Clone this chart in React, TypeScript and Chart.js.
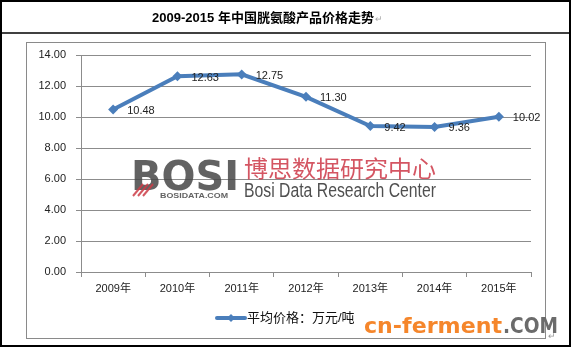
import React, { useEffect, useRef } from "react";
import { Chart, registerables } from "chart.js";

Chart.register(...registerables);

const TITLE = "2009-2015 年中国胱氨酸产品价格走势";
const years = ["2009年", "2010年", "2011年", "2012年", "2013年", "2014年", "2015年"];
const prices = [10.48, 12.63, 12.75, 11.3, 9.42, 9.36, 10.02];
const seriesName = "平均价格：万元/吨";
const yMin = 0;
const yMax = 14;
const yStep = 2;
const wmCn = "博思数据研究中心";
const wmEn = "Bosi Data Research Center";
const wmBrand = "BOSI";
const wmSmall = "BOSIDATA.COM";
const siteA = "cn-ferment";
const siteB = ".COM";

const LINE = "#4a7ebb";
const GRID = "#8c8c8c";
const CJK = '"Liberation Sans", "Noto Sans CJK SC", sans-serif';

function stretchText(ctx: CanvasRenderingContext2D, text: string, x: number, y: number, w: number) {
  const m = ctx.measureText(text).width;
  ctx.save();
  ctx.translate(x, y);
  ctx.scale(w / m, 1);
  ctx.fillText(text, 0, 0);
  ctx.restore();
}

const framePlugin = {
  id: "frame",
  beforeDraw(chart: any) {
    const ctx = chart.ctx as CanvasRenderingContext2D;
    ctx.save();
    ctx.fillStyle = "#ffffff";
    ctx.fillRect(0, 0, chart.width, chart.height);
    // outer black frame
    ctx.strokeStyle = "#000";
    ctx.lineWidth = 2;
    ctx.strokeRect(1, 1, 569, 345);
    ctx.lineWidth = 1.5;
    ctx.beginPath();
    ctx.moveTo(1, 33);
    ctx.lineTo(570, 33);
    ctx.stroke();
    // inner chart frame
    ctx.strokeStyle = "#8a8a8a";
    ctx.lineWidth = 1;
    ctx.strokeRect(26.5, 42.5, 519, 296);
    // title
    ctx.fillStyle = "#000";
    ctx.font = 'bold 13px ' + CJK;
    ctx.textAlign = "left";
    ctx.textBaseline = "middle";
    const tw = ctx.measureText(TITLE).width;
    const tx = 263 - tw / 2;
    ctx.fillText(TITLE, tx, 18);
    ctx.fillStyle = "#aaa";
    ctx.font = "9px " + CJK;
    ctx.fillText("↵", tx + tw + 1, 20);
    ctx.restore();
  },
};

const watermarkPlugin = {
  id: "bosi",
  beforeDatasetsDraw(chart: any) {
    const ctx = chart.ctx as CanvasRenderingContext2D;
    ctx.save();
    ctx.textBaseline = "alphabetic";
    ctx.textAlign = "left";
    // big BOSI letters
    ctx.fillStyle = "rgba(70,70,70,0.85)";
    ctx.font = 'bold 40px "DejaVu Sans", sans-serif';
    stretchText(ctx, wmBrand, 131, 190, 108);
    // red stripes
    ctx.strokeStyle = "rgba(205,60,70,0.85)";
    ctx.lineWidth = 2;
    for (let i = 0; i < 3; i++) {
      ctx.beginPath();
      ctx.moveTo(133 + i * 5, 196);
      ctx.lineTo(143 + i * 5, 184);
      ctx.stroke();
    }
    // small domain
    ctx.fillStyle = "rgba(70,70,70,0.85)";
    ctx.font = "bold 8px " + CJK;
    stretchText(ctx, wmSmall, 160, 198, 68);
    // chinese
    ctx.fillStyle = "rgba(205,55,70,0.85)";
    ctx.font = '23px "Noto Sans CJK SC", sans-serif';
    stretchText(ctx, wmCn, 244, 177, 192);
    // english
    ctx.fillStyle = "rgba(60,60,60,0.9)";
    ctx.font = '20px "Liberation Sans", sans-serif';
    stretchText(ctx, wmEn, 244, 197, 192);
    ctx.restore();
  },
};

const labelsPlugin = {
  id: "vlabels",
  afterDatasetsDraw(chart: any) {
    const ctx = chart.ctx as CanvasRenderingContext2D;
    const meta = chart.getDatasetMeta(0);
    const data = chart.data.datasets[0].data as number[];
    ctx.save();
    ctx.fillStyle = "#222";
    ctx.font = '11px "Liberation Sans", sans-serif';
    ctx.textAlign = "left";
    ctx.textBaseline = "middle";
    meta.data.forEach((pt: any, i: number) => {
      ctx.fillText(data[i].toFixed(2), pt.x + 14, pt.y + 1.5);
    });
    ctx.restore();
  },
};

const legendPlugin = {
  id: "customLegend",
  afterDraw(chart: any) {
    const ctx = chart.ctx as CanvasRenderingContext2D;
    ctx.save();
    const y = 318;
    ctx.strokeStyle = LINE;
    ctx.lineWidth = 4;
    ctx.lineCap = "round";
    ctx.beginPath();
    ctx.moveTo(217, y);
    ctx.lineTo(245, y);
    ctx.stroke();
    ctx.fillStyle = LINE;
    ctx.beginPath();
    ctx.moveTo(231, y - 4);
    ctx.lineTo(235, y);
    ctx.lineTo(231, y + 4);
    ctx.lineTo(227, y);
    ctx.closePath();
    ctx.fill();
    ctx.fillStyle = "#111";
    ctx.font = "13px " + CJK;
    ctx.textAlign = "left";
    ctx.textBaseline = "middle";
    ctx.fillText(chart.data.datasets[0].label, 247, y);

    // site watermark
    ctx.textBaseline = "alphabetic";
    ctx.font = 'bold 22px "DejaVu Sans", sans-serif';
    ctx.fillStyle = "#f5862b";
    stretchText(ctx, siteA, 364, 333, 138);
    ctx.fillStyle = "#6b6b6b";
    stretchText(ctx, siteB, 503, 333, 55);
    ctx.fillStyle = "#999";
    ctx.font = "9px " + CJK;
    ctx.fillText("↵", 548, 339);
    ctx.restore();
  },
};

export default function App() {
  const ref = useRef<HTMLCanvasElement | null>(null);
  useEffect(() => {
    if (!ref.current) return;
    const chart = new Chart(ref.current, {
      type: "line",
      data: {
        labels: years,
        datasets: [
          {
            label: seriesName,
            data: prices,
            borderColor: LINE,
            backgroundColor: LINE,
            borderWidth: 4,
            pointStyle: "rectRot",
            pointRadius: 5,
            pointBackgroundColor: LINE,
            pointBorderColor: LINE,
            pointBorderWidth: 0,
            tension: 0,
          },
        ],
      },
      options: {
        animation: false,
        responsive: false,
        devicePixelRatio: 1,
        layout: { padding: { left: 30, right: 40, top: 55, bottom: 46 } },
        plugins: {
          legend: { display: false },
          title: { display: false },
          tooltip: { enabled: false },
        },
        scales: {
          x: {
            offset: true,
            grid: {
              offset: true,
              drawOnChartArea: false,
              drawTicks: true,
              tickLength: 5,
              color: GRID,
            },
            border: { color: GRID },
            ticks: {
              color: "#222",
              font: { size: 11, family: CJK },
              padding: 5,
              maxRotation: 0,
            },
            afterFit(s: any) {
              s.height = 30;
            },
          },
          y: {
            min: yMin,
            max: yMax,
            grid: { color: GRID, tickLength: 5 },
            border: { color: GRID },
            ticks: {
              stepSize: yStep,
              color: "#222",
              font: { size: 11, family: '"Liberation Sans", sans-serif' },
              padding: 10,
              callback: (v: any) => Number(v).toFixed(2),
            },
            afterFit(s: any) {
              s.width = 51;
            },
          },
        },
      },
      plugins: [framePlugin, watermarkPlugin, labelsPlugin, legendPlugin],
    });
    return () => chart.destroy();
  }, []);
  return (
    <div style={{ position: "absolute", left: 0, top: 0, width: 571, height: 348 }}>
      <canvas ref={ref} width={571} height={348} style={{ display: "block" }} />
    </div>
  );
}
